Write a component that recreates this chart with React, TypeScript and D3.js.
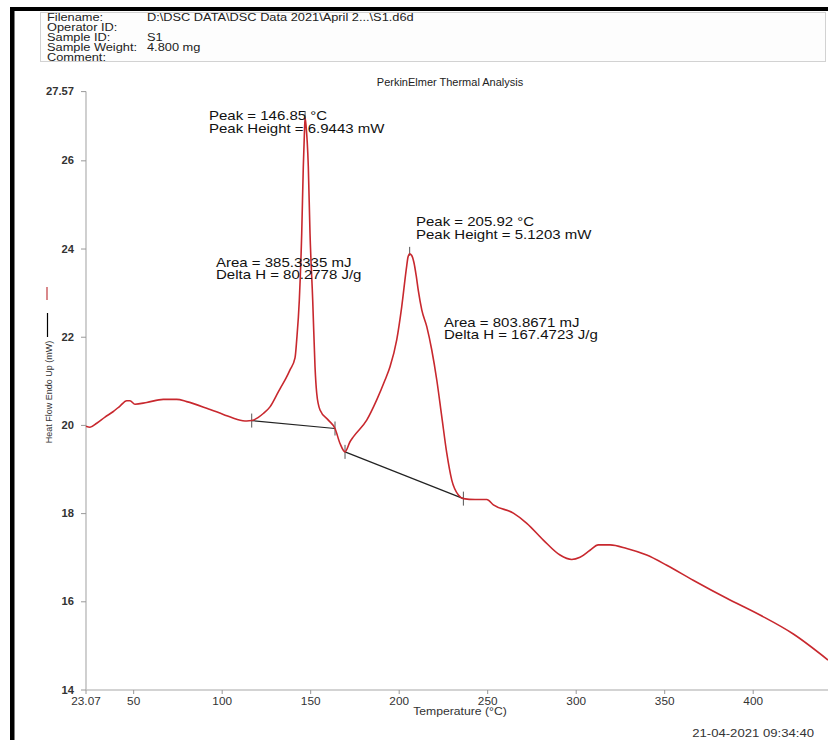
import React from "react";
import * as d3 from "d3";

const headerLabels = ["Filename:", "Operator ID:", "Sample ID:", "Sample Weight:", "Comment:"];
const headerValues = ["D:\\DSC DATA\\DSC Data 2021\\April 2...\\S1.d6d", "", "S1", "4.800 mg", ""];

const xTicks = [23.07, 50, 100, 150, 200, 250, 300, 350, 400, 450];
const yTicks = [14, 16, 18, 20, 22, 24, 26, 27.57];

const temps = [
  23.07, 25.33, 29.12, 33.8, 38.32, 42.28, 46.06, 47.93, 50.75, 57.36, 66.74, 74.31, 79.96, 91.26,
  100.64, 108.21, 113.86, 116.69, 123.24, 127.02, 130.81, 132.67, 136.06, 138.32, 141.15, 142.11,
  143.58, 144.94, 145.84, 146.52, 146.85, 147.36, 148.66, 149.62, 151.15, 152.45, 153.41, 155.28,
  159.97, 163.75, 166.58, 169.4, 172.23, 174.09, 181.66, 187.31, 192.0, 194.82, 198.61, 201.43,
  204.26, 205.0, 205.92, 207.0, 208.3, 209.6, 210.84, 212.76, 215.59, 218.41, 221.24, 224.06, 226.89, 229.71,
  233.44, 236.27, 242.88, 249.49, 253.22, 264.52, 272.1, 281.44, 290.87, 297.48, 302.17, 307.82,
  312.51, 319.12, 328.55, 339.85, 351.15, 366.1, 385.05, 403.86, 422.67, 442.28,
];
const heatFlow = [
  19.98, 19.96, 20.05, 20.19, 20.31, 20.44, 20.56, 20.56, 20.48, 20.52, 20.59, 20.59, 20.54, 20.39,
  20.25, 20.14, 20.1, 20.11, 20.27, 20.42, 20.69, 20.83, 21.07, 21.26, 21.53, 21.94,
  22.84, 24.36, 25.87, 26.7, 26.97, 26.81, 25.87, 24.36, 22.84, 21.33, 20.73, 20.35,
  20.12, 19.93, 19.59, 19.4, 19.63, 19.74, 20.12, 20.58, 21.03, 21.33, 21.94, 22.69,
  23.62, 23.82, 23.89, 23.86, 23.7, 23.4, 23.05, 22.62, 22.24, 21.71, 21.03, 20.2, 19.37, 18.76,
  18.42, 18.34, 18.32, 18.32, 18.2, 18.01, 17.78, 17.4, 17.06, 16.96, 17.01, 17.17,
  17.29, 17.29, 17.21, 17.06, 16.83, 16.49, 16.08, 15.7, 15.27, 14.68,
];

const baselineStartT = [116.69, 169.4];
const baselineStartV = [20.11, 19.4];
const baselineEndT = [163.75, 236.27];
const baselineEndV = [19.93, 18.34];
const peakT = [146.85, 205.92];
const peakV = [26.97, 23.89];

const peakLabels = [
  ["Peak = 146.85 °C", "Peak Height = 6.9443 mW"],
  ["Peak = 205.92 °C", "Peak Height = 5.1203 mW"],
];
const areaLabels = [
  ["Area = 385.3335 mJ", "Delta H = 80.2778 J/g"],
  ["Area = 803.8671 mJ", "Delta H = 167.4723 J/g"],
];

const W = 828;
const H = 740;
const FONT = "'Liberation Sans', Arial, sans-serif";

type TProps = {
  x: number;
  y: number;
  size: number;
  sx?: number;
  anchor?: "start" | "middle" | "end";
  fill?: string;
  weight?: string;
  children: React.ReactNode;
};
function T({ x, y, size, sx = 1.2, anchor = "start", fill = "#222", weight = "normal", children }: TProps) {
  return (
    <text
      transform={`translate(${x},${y}) scale(${sx},1)`}
      textAnchor={anchor}
      fontFamily={FONT}
      fontSize={size}
      fontWeight={weight}
      fill={fill}
    >
      {children}
    </text>
  );
}

export default function App() {
  const x = d3.scaleLinear().domain([23.07, 450]).range([86, 841.7]);
  const y = d3.scaleLinear().domain([14, 27.57]).range([690, 91.6]);
  const data = temps.map((t, i) => [t, heatFlow[i]] as [number, number]);
  const line = d3
    .line<[number, number]>()
    .x((d) => x(d[0]))
    .y((d) => y(d[1]))
    .curve(d3.curveMonotoneX);

  const axisColor = "#c4c4c4";
  const textColor = "#333";

  return (
    <div style={{ position: "fixed", left: 0, top: 0 }}>
      <svg width={W} height={H} style={{ display: "block", background: "#fff" }}>
        <rect x={0} y={0} width={W} height={H} fill="#fff" />
        <rect x={10} y={7} width={W - 10} height={4} fill="#000" />
        <rect x={10} y={7} width={4.5} height={H - 7} fill="#000" />
        <rect x={40.5} y={12.5} width={785} height={49} fill="#fdfdfd" stroke="#d2d2d2" />
        {headerLabels.map((l, i) => (
          <T key={l} x={47} y={20.5 + i * 10} size={10} sx={1.28}>
            {l}
          </T>
        ))}
        {headerValues.map((v, i) => (
          <T key={"v" + i} x={147} y={20.5 + i * 10} size={10} sx={1.28}>
            {v}
          </T>
        ))}
        <T x={450} y={86} size={10} sx={1.1} anchor="middle">
          PerkinElmer Thermal Analysis
        </T>
        <line x1={x(23.07)} x2={x(23.07)} y1={y(27.57)} y2={y(14)} stroke={axisColor} strokeWidth={1.6} />
        <line x1={x(23.07)} x2={W} y1={y(14)} y2={y(14)} stroke={axisColor} strokeWidth={1.6} />
        {yTicks.map((t) => (
          <g key={"y" + t}>
            <line x1={x(23.07) - 5} x2={x(23.07)} y1={y(t)} y2={y(t)} stroke="#999" strokeWidth={1} />
            <T x={x(23.07) - 12} y={y(t) + 3.5} size={10} sx={1.12} anchor="end" fill={textColor} weight="bold">
              {t}
            </T>
          </g>
        ))}
        {xTicks.map((t) => (
          <g key={"x" + t}>
            <line x1={x(t)} x2={x(t)} y1={y(14)} y2={y(14) + 4} stroke="#999" strokeWidth={1} />
            <T x={x(t)} y={y(14) + 15} size={10} sx={1.18} anchor="middle" fill={textColor}>
              {t}
            </T>
          </g>
        ))}
        <T x={460} y={715} size={10} sx={1.22} anchor="middle" fill={textColor}>
          Temperature (°C)
        </T>
        <T x={814} y={737} size={10.5} sx={1.25} anchor="end" fill={textColor}>
          21-04-2021 09:34:40
        </T>
        <line x1={47} x2={47} y1={287} y2={300} stroke="#c0393f" strokeWidth={1.2} />
        <line x1={47.5} x2={47.5} y1={313} y2={337} stroke="#000" strokeWidth={1.2} />
        <text
          transform="translate(51.5,392) rotate(-90)"
          textAnchor="middle"
          fontFamily={FONT}
          fontSize={9}
          fill={textColor}
        >
          Heat Flow Endo Up (mW)
        </text>
        {baselineStartT.map((t, i) => (
          <g key={"b" + i}>
            <line
              x1={x(t)}
              y1={y(baselineStartV[i])}
              x2={x(baselineEndT[i])}
              y2={y(baselineEndV[i])}
              stroke="#222"
              strokeWidth={1.2}
            />
            <line x1={x(t)} x2={x(t)} y1={y(baselineStartV[i]) - 7} y2={y(baselineStartV[i]) + 7} stroke="#555" strokeWidth={1} />
            <line
              x1={x(baselineEndT[i])}
              x2={x(baselineEndT[i])}
              y1={y(baselineEndV[i]) - 7}
              y2={y(baselineEndV[i]) + 7}
              stroke="#555"
              strokeWidth={1}
            />
          </g>
        ))}
        {peakT.map((t, i) => (
          <line key={"p" + i} x1={x(t)} x2={x(t)} y1={y(peakV[i]) - 7} y2={y(peakV[i]) + 2} stroke="#555" strokeWidth={1} />
        ))}
        <path d={line(data) || ""} fill="none" stroke="#c8282e" strokeWidth={1.6} />
        {[
          [209, 120],
          [416, 226],
        ].map(([ax, ay], i) => (
          <g key={"pl" + i}>
            <T x={ax} y={ay} size={12.5} sx={1.2} fill="#111">
              {peakLabels[i][0]}
            </T>
            <T x={ax} y={ay + 12.5} size={12.5} sx={1.2} fill="#111">
              {peakLabels[i][1]}
            </T>
          </g>
        ))}
        {[
          [216, 267],
          [444, 327],
        ].map(([ax, ay], i) => (
          <g key={"al" + i}>
            <T x={ax} y={ay} size={12.5} sx={1.2} fill="#111">
              {areaLabels[i][0]}
            </T>
            <T x={ax} y={ay + 12} size={12.5} sx={1.2} fill="#111">
              {areaLabels[i][1]}
            </T>
          </g>
        ))}
      </svg>
    </div>
  );
}
